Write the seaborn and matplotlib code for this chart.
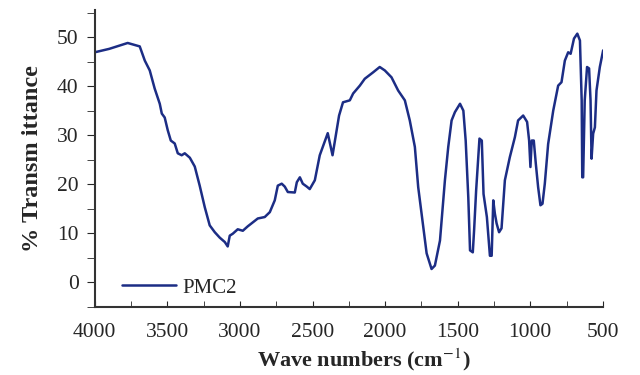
import numpy as np
import pandas as pd
import seaborn as sns
import matplotlib.pyplot as plt
from matplotlib.ticker import MultipleLocator

# FTIR spectrum
wavenumber = [4000, 3900, 3773, 3690, 3655, 3621, 3587, 3552, 3538, 3518, 3497, 3476,
              3449, 3428, 3401, 3380, 3345, 3311, 3277, 3242, 3208, 3173, 3139, 3104,
              3084, 3070, 3049, 3015, 2980, 2946, 2911, 2877, 2829, 2794, 2760, 2739,
              2712, 2691, 2670, 2622, 2608, 2587, 2567, 2539, 2519, 2484, 2450, 2395,
              2362, 2317, 2290, 2243, 2220, 2174, 2140, 2083, 2037, 2002, 1956, 1910,
              1864, 1830, 1795, 1772, 1749, 1714, 1680, 1657, 1622, 1588, 1565, 1542,
              1519, 1484, 1461, 1445, 1427, 1415, 1396, 1387, 1373, 1350, 1334, 1322,
              1299, 1278, 1266, 1255, 1244, 1232, 1215, 1198, 1175, 1141, 1106, 1084,
              1049, 1022, 1008, 999, 990, 976, 962, 946, 930, 916, 900, 877, 842, 808,
              785, 762, 739, 722, 699, 676, 658, 646, 642, 636, 625, 609, 595, 585, 578,
              567, 555, 544, 521, 498]
transmittance = [46.9, 47.6, 48.8, 48.1, 45.2, 43.2, 39.5, 36.4, 34.4, 33.6, 31.0, 28.9,
                 28.3, 26.3, 25.9, 26.3, 25.4, 23.6, 19.7, 15.3, 11.6, 10.2, 9.1, 8.2,
                 7.3, 9.5, 9.9, 10.8, 10.5, 11.4, 12.2, 13.0, 13.3, 14.3, 16.7, 19.7,
                 20.1, 19.5, 18.4, 18.3, 20.4, 21.4, 20.1, 19.5, 19.0, 20.8, 25.9, 30.4,
                 25.9, 34.0, 36.7, 37.1, 38.5, 40.1, 41.5, 42.8, 43.9, 43.2, 41.8, 39.1,
                 37.1, 33.0, 27.6, 19.4, 14.0, 5.9, 2.7, 3.4, 8.5, 20.8, 27.6, 33.0,
                 34.7, 36.4, 35.0, 28.9, 17.3, 6.5, 6.1, 10.6, 18.7, 29.3, 28.9, 18.0,
                 13.3, 5.4, 5.4, 16.7, 14.0, 12.0, 10.2, 11.0, 20.8, 25.5, 29.6, 33.0,
                 34.0, 32.7, 28.9, 23.5, 28.9, 28.9, 24.2, 19.4, 15.7, 16.0, 20.1, 28.2,
                 35.0, 40.1, 40.8, 45.2, 46.9, 46.6, 49.7, 50.7, 49.3, 37.1, 21.4, 21.4,
                 37.1, 43.9, 43.6, 37.1, 25.2, 30.3, 31.6, 39.1, 43.9, 47.3]
series_name = "PMC2"

df = pd.DataFrame({"wn": wavenumber, "T": transmittance})

sns.set_style("ticks")
plt.rcParams['font.family'] = ['Liberation Serif', 'DejaVu Serif']
plt.rcParams['mathtext.fontset'] = 'stix'

fig = plt.figure(figsize=(6.4, 3.75), dpi=100)
ax = fig.add_axes([0.148, 0.182, 0.794, 0.791])

sns.lineplot(data=df, x="wn", y="T", sort=False, color="#1c2d85", linewidth=1.8,
             label=series_name, ax=ax)

ax.set_xlim(4000, 500)
ax.set_ylim(-5, 55.5)
ax.xaxis.set_major_locator(MultipleLocator(500))
ax.xaxis.set_minor_locator(MultipleLocator(250))
ax.yaxis.set_major_locator(MultipleLocator(10))
ax.yaxis.set_minor_locator(MultipleLocator(5))
ax.tick_params(axis="x", which="both", direction="in", length=4, labelsize=15.5, pad=12)
ax.tick_params(axis="y", which="both", direction="out", length=5.5, labelsize=15.5, pad=6)
for s in ["top", "right"]:
    ax.spines[s].set_visible(False)
for s in ["left", "bottom"]:
    ax.spines[s].set_linewidth(1.5)
    ax.spines[s].set_color("#333333")

ax.set_xlabel("Wave numbers (cm$^{-1}$)", fontsize=16, fontweight="bold", labelpad=3)
ax.xaxis.label.set_x(0.53)
ax.set_ylabel("% Transm ittance", fontsize=17.5, fontweight="bold", labelpad=10)

ax.legend(loc="center left", frameon=False, fontsize=15, handlelength=2.6,
          handletextpad=0.3, borderpad=0, borderaxespad=0,
          bbox_to_anchor=(0.053, 0.064))

fig.savefig("out.png", dpi=100)
